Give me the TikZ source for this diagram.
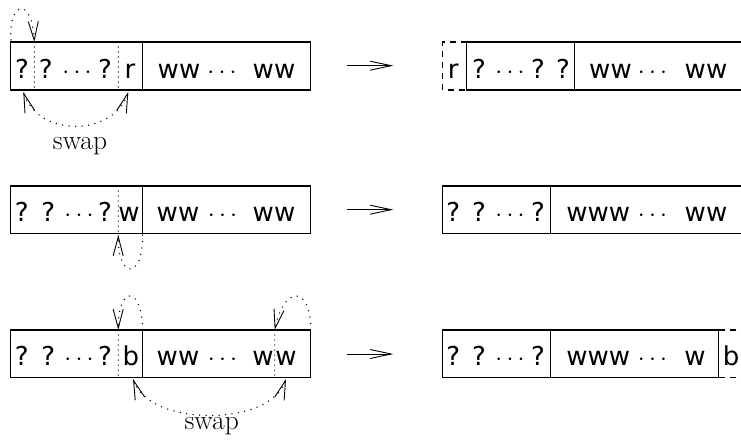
\documentclass[tikz,border=0pt]{standalone}
\usepackage{fontspec}
\newfontfamily\sansf{DejaVu Sans}
\usetikzlibrary{arrows.meta}
\begin{document}
\begin{tikzpicture}[x=1pt,y=-1pt,
  box/.style={line width=1.1pt},
  dbox/.style={line width=1.1pt,dash pattern=on 6pt off 5pt},
  txt/.style={anchor=base,inner sep=0pt,font=\sansf\fontsize{26}{30}\selectfont},
  lbl/.style={anchor=base,inner sep=0pt,font=\fontsize{27.5}{32}\selectfont},
  dotv/.style={line width=1.4pt,line cap=round,dash pattern=on 0pt off 5pt},
  darc/.style={line width=1.5pt,line cap=round,dash pattern=on 0pt off 6.5pt},
  tipe/.style={-{Straight Barb[length=19pt,width=10pt,line width=0.9pt]}},
  tipb/.style={{Straight Barb[length=19pt,width=10pt,line width=0.9pt]}-{Straight Barb[length=19pt,width=10pt,line width=0.9pt]}},
  goes/.style={line width=0.9pt,-{Straight Barb[length=21pt,width=9pt,line width=0.9pt]}}]
\useasboundingbox (0,0) rectangle (741,444);

% ---------- row 1 left ----------
\draw[box] (10.7,42) rectangle (310.7,90);
\draw[box] (142.7,42) -- (142.7,90);
\draw[dotv] (34.3,42) -- (34.3,90);
\draw[dotv] (118.3,42) -- (118.3,90);
\node[txt] (a1) at (22,78.3) {?};
\node[txt] (a2) at (45.7,78.3) {?};
\node[txt] (a3) at (77,78.3) {$\cdots$};
\node[txt] (a4) at (105,78.3) {?};
\node[txt] (a5) at (130,78.3) {r};
\node[txt] (a6) at (179,78.3) {ww};
\node[txt] (a7) at (222,78.3) {$\cdots$};
\node[txt] (a8) at (274,78.3) {ww};
\coordinate (l1s) at (11,40);
\coordinate (l1e) at (34.3,42);
\draw[darc,tipe] (l1s) .. controls (8,2) and (32,-5) .. (l1e);
\coordinate (s1a) at (23.3,92);
\coordinate (s1b) at (128.3,92);
\draw[darc,tipb] (s1a) .. controls (38,137) and (113,137) .. (s1b);
\node[lbl] (sw1) at (80,149) {swap};

% ---------- row 1 right ----------
\draw[dbox] (466.7,42) -- (442.7,42) -- (442.7,90) -- (466.7,90);
\draw[box] (466.7,42) rectangle (744,90);
\draw[box] (574.7,42) -- (574.7,90);
\node[txt] (b1) at (453.3,78.3) {r};
\node[txt] (b2) at (479,78.3) {?};
\node[txt] (b3) at (510,78.3) {$\cdots$};
\node[txt] (b4) at (538,78.3) {?};
\node[txt] (b5) at (563,78.3) {?};
\node[txt] (b6) at (610.5,78.3) {ww};
\node[txt] (b7) at (652.5,78.3) {$\cdots$};
\node[txt] (b8) at (706,78.3) {ww};
\coordinate (g1s) at (346.7,65.7);
\coordinate (g1e) at (393.3,65.7);
\draw[goes] (g1s) -- (g1e);

% ---------- row 2 left ----------
\draw[box] (10.7,186) rectangle (310.7,233.5);
\draw[box] (142.7,186) -- (142.7,233.5);
\draw[dotv] (118.3,186) -- (118.3,236);
\node[txt] (c1) at (21.7,221.7) {?};
\node[txt] (c2) at (48.3,221.7) {?};
\node[txt] (c3) at (79,221.7) {$\cdots$};
\node[txt] (c4) at (105,221.7) {?};
\node[txt] (c5) at (129,221.7) {w};
\node[txt] (c6) at (178,221.7) {ww};
\node[txt] (c7) at (222.5,221.7) {$\cdots$};
\node[txt] (c8) at (274,221.7) {ww};
\coordinate (l2s) at (142.7,235);
\coordinate (l2e) at (118.3,235);
\draw[darc,tipe] (l2s) .. controls (143,280) and (118,280) .. (l2e);

% ---------- row 2 right ----------
\draw[box] (442.7,186) rectangle (744,233.5);
\draw[box] (550.7,186) -- (550.7,233.5);
\node[txt] (d1) at (453.3,221.7) {?};
\node[txt] (d2) at (479,221.7) {?};
\node[txt] (d3) at (510,221.7) {$\cdots$};
\node[txt] (d4) at (538,221.7) {?};
\node[txt] (d5) at (598.3,221.7) {www};
\node[txt] (d6) at (652.5,221.7) {$\cdots$};
\node[txt] (d7) at (706,221.7) {ww};
\coordinate (g2s) at (346.7,209.7);
\coordinate (g2e) at (393.3,209.7);
\draw[goes] (g2s) -- (g2e);

% ---------- row 3 left ----------
\draw[box] (10.7,330) rectangle (310.7,377.7);
\draw[box] (142.7,330) -- (142.7,377.7);
\draw[dotv] (118.3,330) -- (118.3,377.7);
\draw[dotv] (274.7,330) -- (274.7,377.7);
\node[txt] (e1) at (21.7,365.5) {?};
\node[txt] (e2) at (48.3,365.5) {?};
\node[txt] (e3) at (79,365.5) {$\cdots$};
\node[txt] (e4) at (105,365.5) {?};
\node[txt] (e5) at (131,365.5) {b};
\node[txt] (e6) at (178,365.5) {ww};
\node[txt] (e7) at (222.5,365.5) {$\cdots$};
\node[txt] (e8) at (263,365.5) {w};
\node[txt] (e9) at (286,365.5) {w};
\coordinate (l3s) at (142.7,330);
\coordinate (l3e) at (118.3,330);
\draw[darc,tipe] (l3s) .. controls (142,285) and (118,285) .. (l3e);
\coordinate (l4s) at (310.7,330);
\coordinate (l4e) at (274.7,330);
\draw[darc,tipe] (l4s) .. controls (311,285) and (284,285) .. (l4e);
\coordinate (s3a) at (133,379);
\coordinate (s3b) at (286,379);
\draw[darc,tipb] (s3a) .. controls (150,427) and (270,427) .. (s3b);
\node[lbl] (sw3) at (211.7,429) {swap};

% ---------- row 3 right ----------
\draw[box] (442.7,330) rectangle (718.5,377.7);
\draw[box] (550.7,330) -- (550.7,377.7);
\draw[dbox] (718.5,330) -- (746,330);
\draw[dbox] (718.5,377.7) -- (746,377.7);
\node[txt] (f1) at (453.3,365.5) {?};
\node[txt] (f2) at (479,365.5) {?};
\node[txt] (f3) at (510,365.5) {$\cdots$};
\node[txt] (f4) at (538,365.5) {?};
\node[txt] (f5) at (598.3,365.5) {www};
\node[txt] (f6) at (652.5,365.5) {$\cdots$};
\node[txt] (f7) at (695,365.5) {w};
\node[txt] (f8) at (731,365.5) {b};
\coordinate (g3s) at (346.7,354);
\coordinate (g3e) at (393.3,354);
\draw[goes] (g3s) -- (g3e);
\end{tikzpicture}
\end{document}
